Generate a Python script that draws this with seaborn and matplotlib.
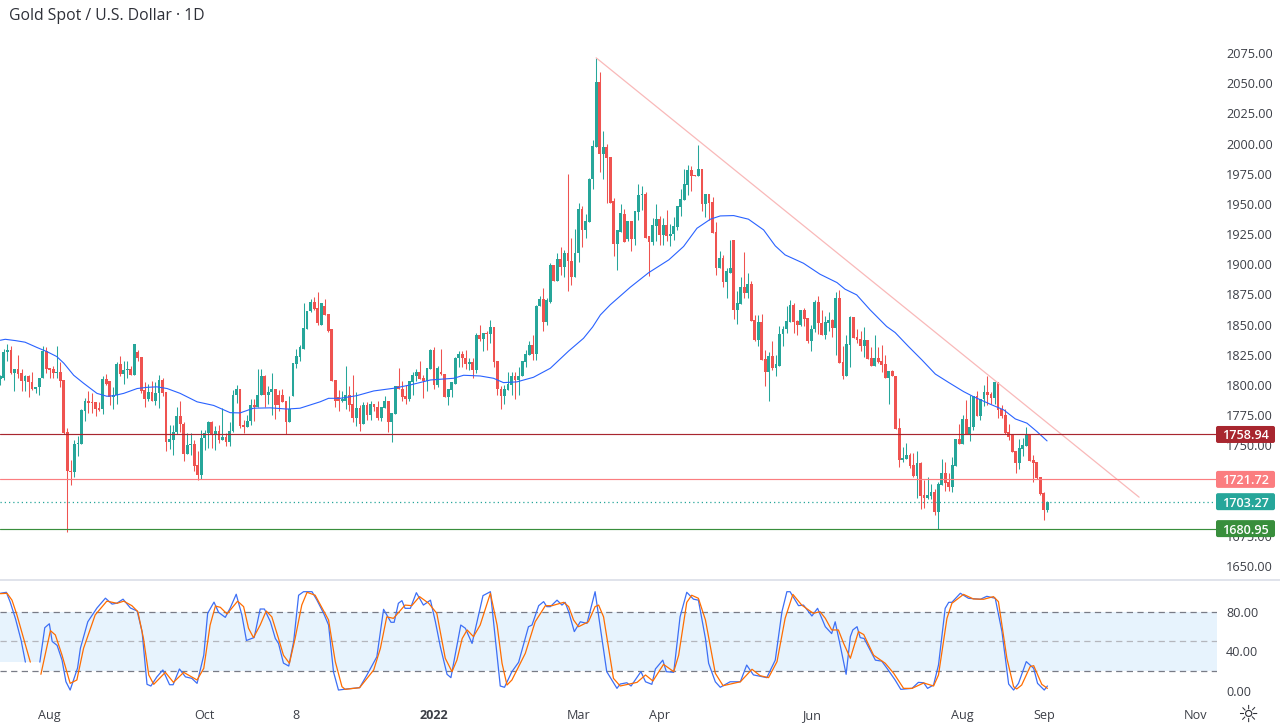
import numpy as np
import pandas as pd
import seaborn as sns
import matplotlib
matplotlib.use("Agg")
import matplotlib.pyplot as plt
from matplotlib.patches import FancyBboxPatch
from matplotlib.ticker import FormatStrFormatter
from matplotlib.transforms import IdentityTransform

# daily candles
opens = [
    1805, 1806, 1827, 1829, 1810, 1813, 1810, 1803, 1807, 1802,
    1797, 1798, 1806, 1828, 1814, 1813, 1810, 1811, 1804, 1761,
    1729, 1728, 1751, 1751, 1778, 1787, 1786, 1786, 1781, 1780,
    1805, 1803, 1790, 1792, 1817, 1809, 1812, 1813, 1808, 1827,
    1823, 1796, 1788, 1794, 1787, 1793, 1804, 1794, 1753, 1754,
    1761, 1774, 1768, 1743, 1750, 1751, 1734, 1725, 1756, 1760,
    1769, 1759, 1762, 1754, 1757, 1753, 1762, 1792, 1797, 1767,
    1765, 1770, 1783, 1782, 1792, 1807, 1792, 1794, 1797, 1792,
    1792, 1787, 1769, 1791, 1817, 1823, 1830, 1846, 1861, 1869,
    1864, 1850, 1865, 1859, 1846, 1804, 1790, 1787, 1787, 1792,
    1784, 1773, 1781, 1768, 1783, 1775, 1784, 1782, 1773, 1781,
    1787, 1769, 1776, 1799, 1797, 1791, 1788, 1802, 1807, 1811,
    1806, 1803, 1813, 1829, 1800, 1811, 1809, 1790, 1796, 1801,
    1822, 1826, 1822, 1817, 1819, 1812, 1841, 1838, 1843, 1842,
    1848, 1820, 1797, 1791, 1796, 1800, 1807, 1804, 1807, 1819,
    1825, 1833, 1826, 1865, 1871, 1852, 1869, 1899, 1886, 1904,
    1898, 1909, 1903, 1889, 1909, 1946, 1928, 1935, 1971, 1997,
    2051, 1991, 1997, 1989, 1952, 1917, 1927, 1942, 1921, 1936,
    1921, 1943, 1957, 1958, 1923, 1918.5, 1932, 1937.5, 1924, 1932.5,
    1923, 1925, 1931, 1947.5, 1953.5, 1966, 1978, 1974, 1973, 1979,
    1950, 1958, 1951.5, 1927, 1897, 1905, 1885, 1893, 1920, 1862,
    1867, 1881, 1876, 1884, 1854, 1837, 1852, 1821.5, 1811, 1824,
    1814, 1816, 1842, 1846, 1852, 1866, 1853, 1850, 1862, 1855.5,
    1836.5, 1846, 1869, 1851.5, 1841, 1851.5, 1854, 1847, 1872, 1819,
    1807.5, 1833, 1856, 1840, 1838, 1832, 1837, 1822.5, 1816, 1822.5,
    1820, 1817, 1806, 1811.5, 1807.5, 1764, 1738, 1739, 1742, 1733.8,
    1724.7, 1735.4, 1709, 1706.5, 1708, 1711.4, 1695, 1717.2, 1727, 1719.7,
    1715.5, 1733, 1755.3, 1751, 1772, 1759.4, 1765, 1791, 1774.3, 1788,
    1794, 1792.5, 1789.2, 1802.5, 1780, 1775, 1761, 1758.6, 1745.3, 1735.4,
    1746.8, 1749.5, 1758.6, 1738, 1736, 1723.8, 1710.6, 1696.5,
]
highs = [
    1808, 1830, 1834, 1832, 1813, 1825, 1813, 1808, 1808, 1811,
    1798, 1806, 1832, 1831, 1814, 1816, 1832, 1819, 1804, 1764,
    1738, 1754, 1758, 1780, 1789, 1795, 1793, 1786, 1786, 1807,
    1809, 1803, 1798, 1819, 1824, 1820, 1820, 1816, 1834, 1829,
    1823, 1802, 1801, 1803, 1802, 1808, 1806, 1794, 1767, 1767,
    1782, 1787, 1769, 1760, 1760, 1754, 1745, 1763, 1763, 1770,
    1770, 1766, 1767, 1781, 1760, 1769, 1796, 1800, 1797, 1771,
    1775, 1788, 1788, 1813, 1813, 1808, 1799, 1810, 1797, 1796,
    1797, 1787, 1791, 1818, 1830, 1833, 1868, 1861, 1871, 1873,
    1877, 1868, 1871, 1859, 1846, 1804, 1796, 1795, 1816, 1799,
    1808, 1794, 1783, 1786, 1786, 1787, 1784, 1787, 1782, 1791,
    1787, 1777, 1799, 1814, 1803, 1800, 1803, 1811, 1813, 1820,
    1808, 1814, 1830, 1831, 1816, 1830, 1809, 1797, 1802, 1823,
    1828, 1828, 1829, 1822, 1822, 1843, 1850, 1843, 1845, 1854,
    1848, 1820, 1799, 1800, 1811, 1811, 1811, 1815, 1820, 1829,
    1836, 1841, 1866, 1874, 1880, 1872, 1901, 1899, 1909, 1914,
    1912, 1975, 1922, 1929, 1950.5, 1948, 1942, 1971.5, 2003, 2071,
    2059, 2010, 1999.5, 1989, 1955, 1928, 1950, 1946, 1936, 1936,
    1944, 1966.5, 1965, 1960, 1923, 1938, 1950, 1940, 1938, 1945,
    1933, 1939, 1948, 1962, 1979, 1982, 1981, 1974, 1999, 1979,
    1958, 1958, 1956, 1935, 1911, 1908, 1897, 1920, 1920, 1878,
    1889.5, 1910, 1893, 1886, 1858, 1858, 1859, 1829, 1827, 1836,
    1825, 1849, 1849, 1865.5, 1870, 1868, 1854, 1862, 1864, 1855.5,
    1850, 1870.5, 1874, 1862, 1857, 1860, 1855, 1877, 1879, 1832,
    1841.5, 1857, 1856, 1846.5, 1845, 1848, 1837, 1831.5, 1841, 1831,
    1833, 1825, 1811.5, 1812, 1807.5, 1773, 1748.5, 1752, 1744, 1743.7,
    1745, 1736, 1721, 1724, 1718, 1714, 1719.7, 1738.7, 1736, 1727,
    1740.4, 1755.3, 1767.7, 1775, 1787.6, 1791.7, 1791, 1795, 1788.4, 1800,
    1807.5, 1794, 1802.5, 1802.5, 1783.4, 1780, 1767.7, 1758.6, 1745.3, 1755.3,
    1755.8, 1765.5, 1758.6, 1742, 1736, 1723.8, 1711.4, 1703.5,
]
lows = [
    1800, 1804, 1820, 1809, 1795, 1806, 1795, 1795, 1790, 1796,
    1793, 1792, 1806, 1810, 1806, 1806, 1806, 1798, 1759, 1678,
    1717, 1724, 1741, 1751, 1770, 1777, 1777, 1774, 1778, 1776,
    1800, 1783, 1780, 1784, 1807, 1801, 1806, 1808, 1808, 1820,
    1793, 1782, 1787, 1787, 1783, 1781, 1791, 1745, 1747, 1742,
    1759, 1761, 1737, 1743, 1742, 1729, 1721, 1722, 1746, 1748,
    1748, 1746, 1752, 1754, 1749, 1749, 1761, 1785, 1764, 1760,
    1765, 1767, 1770, 1782, 1792, 1782, 1784, 1775, 1772, 1778,
    1786, 1759, 1769, 1791, 1814, 1820, 1830, 1846, 1860, 1862,
    1850, 1850, 1858, 1844, 1803, 1782, 1778, 1786, 1780, 1778,
    1769, 1766, 1762, 1768, 1771, 1771, 1778, 1771, 1770, 1781,
    1761, 1753, 1776, 1797, 1787, 1784, 1787, 1792, 1803, 1805,
    1789, 1795, 1813, 1797, 1798, 1808, 1790, 1783, 1790, 1801,
    1815, 1815, 1813, 1812, 1806, 1810, 1836, 1828, 1829, 1835,
    1815, 1792, 1780, 1784, 1796, 1792, 1788, 1792, 1807, 1815,
    1825, 1821, 1821, 1865, 1845, 1850, 1868, 1886, 1886, 1891,
    1889, 1878, 1883, 1889, 1902, 1914, 1922, 1935, 1962, 1997,
    1976.5, 1971, 1951, 1951, 1907, 1895, 1927, 1918, 1919, 1911,
    1916, 1937, 1945, 1922, 1890, 1916, 1919, 1916, 1916, 1919,
    1915, 1920, 1928, 1940, 1953.5, 1957, 1961, 1973, 1973, 1944,
    1939, 1937, 1926, 1891, 1897, 1881, 1872, 1893, 1855, 1850.5,
    1867, 1872, 1872, 1853, 1836, 1832, 1821, 1799, 1787, 1812.5,
    1807.5, 1816, 1832, 1843, 1852, 1843, 1841, 1849, 1849, 1835,
    1828, 1844, 1842, 1841, 1838, 1845, 1840, 1825, 1818, 1805,
    1807.5, 1815, 1839, 1835, 1828, 1823, 1821.5, 1816, 1816, 1818,
    1811, 1806, 1784, 1807, 1763.5, 1732, 1736, 1739, 1731, 1724,
    1706.5, 1697, 1698, 1705.6, 1705.6, 1692, 1680.8, 1717, 1712, 1712,
    1711.4, 1733, 1751, 1751, 1759.4, 1753.6, 1762.7, 1774.3, 1771, 1782.6,
    1783.4, 1784, 1784, 1772.7, 1773, 1759.5, 1754.4, 1744.5, 1727, 1730.4,
    1740.7, 1749.5, 1737, 1719.7, 1722, 1709, 1688, 1695,
]
closes = [
    1807, 1827, 1829, 1810, 1813, 1809, 1803, 1807, 1802, 1797,
    1798, 1806, 1828, 1813, 1812, 1810, 1811, 1803, 1760, 1729,
    1728, 1751, 1752, 1779, 1787, 1785, 1785, 1780, 1779, 1805,
    1801, 1790, 1792, 1817, 1809, 1812, 1813, 1808, 1834, 1822,
    1795, 1788, 1794, 1787, 1793, 1804, 1793, 1753, 1755, 1761,
    1774, 1768, 1743, 1750, 1751, 1733, 1725, 1756, 1760, 1769,
    1759, 1762, 1754, 1757, 1753, 1762, 1792, 1797, 1766, 1765,
    1770, 1783, 1782, 1792, 1807, 1792, 1794, 1797, 1783, 1783,
    1786, 1769, 1780, 1818, 1824, 1831, 1847, 1861, 1869, 1863,
    1851, 1868, 1858, 1845, 1803, 1787, 1787, 1788, 1792, 1783,
    1773, 1781, 1768, 1783, 1775, 1784, 1782, 1773, 1782, 1787,
    1769, 1777, 1799, 1797, 1790, 1788, 1803, 1808, 1811, 1805,
    1803, 1814, 1829, 1800, 1814, 1809, 1790, 1797, 1802, 1822,
    1826, 1822, 1817, 1819, 1812, 1841, 1838, 1843, 1842, 1848,
    1819, 1797, 1791, 1797, 1801, 1807, 1804, 1807, 1820, 1826,
    1833, 1826, 1865.5, 1871, 1852, 1870, 1899, 1886, 1904.5, 1898,
    1909, 1903, 1889, 1909, 1946, 1928, 1936, 1971, 1998, 2051,
    1991, 1997, 1988, 1951, 1917, 1928, 1942.5, 1918, 1936, 1921,
    1944, 1957.5, 1958.5, 1922, 1918.5, 1932.5, 1937.5, 1924, 1932.5, 1923,
    1925, 1932, 1948, 1954, 1966.5, 1978, 1973, 1973, 1979, 1950,
    1958, 1951, 1926, 1897, 1905, 1885, 1894.5, 1897, 1862, 1868,
    1881, 1876, 1884, 1853, 1837, 1852, 1821, 1811, 1824, 1814,
    1817, 1842, 1846.5, 1853, 1866, 1852, 1850, 1862, 1855, 1836.5,
    1846.5, 1869, 1851, 1841, 1852, 1854, 1847, 1872, 1818, 1807.5,
    1834, 1856, 1839, 1837, 1832, 1837, 1821.5, 1816, 1822.5, 1819,
    1816.5, 1806, 1811.5, 1807, 1763.5, 1738, 1739.5, 1742, 1733, 1724.7,
    1735.4, 1708, 1706.5, 1709, 1711.4, 1695, 1718, 1727, 1719, 1715.5,
    1733.8, 1755.3, 1751, 1772, 1759.4, 1765, 1791, 1774.3, 1788.4, 1794,
    1791.7, 1789.2, 1802.5, 1779.3, 1774.3, 1760, 1756.7, 1744.5, 1735.4, 1747.8,
    1750.3, 1758.6, 1737, 1735.4, 1723, 1709.7, 1696.5, 1703.27,
]

# moving average, bar number and price
ma_bar = [0, 1.4, 4.3, 7, 10.4, 13.2, 16, 18, 20.8, 23.6, 27.4, 30.2, 32, 35, 38.8, 41.6,
          44.4, 47.3, 51, 55.8, 60.5, 65.2, 68, 71.8, 76.6, 81.3, 85, 90.7, 93.1, 96.4,
          101.1, 105.9, 111.5, 116.3, 122, 128.6, 131.4, 136.1, 139.9, 142.7, 146.5,
          151.2, 156, 161.2, 165.4, 168, 170.2, 173, 178.7, 183.9, 189.6, 193.8, 197.6,
          201.4, 204.2, 208, 212.2, 216.5, 219.8, 222.6, 227.8, 232.5, 237.3, 239.6,
          242.9, 246.7, 251.4, 253.8, 257.6, 261.4, 265.2, 269, 273.2, 276, 280.8, 284.6,
          287.9, 291.2, 294, 296.9]
ma_price = [1837, 1837.8, 1836.7, 1835.4, 1831, 1827.6, 1823.5, 1818, 1808, 1801.4, 1793,
            1790.6, 1791, 1793, 1797, 1798, 1798.4, 1797, 1793, 1786, 1783, 1777, 1776.8,
            1780.7, 1781, 1780, 1780.7, 1786, 1788.9, 1788.9, 1791.1, 1795, 1797.2, 1800,
            1804.1, 1805.5, 1808, 1807.4, 1805.5, 1801.9, 1802.5, 1806.3, 1813.8, 1828.1,
            1838.6, 1848, 1858, 1866.4, 1881, 1893, 1903.6, 1914.7, 1929.8, 1937.3, 1940,
            1940.3, 1937.3, 1928.4, 1915.2, 1907.7, 1900.8, 1891.7, 1884.8, 1879.3, 1874.6,
            1862.2, 1848.4, 1843.4, 1831.8, 1820.7, 1809, 1802, 1794.5, 1790.3, 1784,
            1779.3, 1771.8, 1768.3, 1761.4, 1753.6]

trend_bar = [169, 323]
trend_price = [2071, 1707]

level_values = [1758.94, 1721.72, 1680.95]
level_colors = ["#a8262f", "#fb7d80", "#388e3c"]
last_price = 1703.27

# 1700 and 1725 sit fully under the price tags in the reference
price_ticks = [1650, 1675, 1750, 1775, 1800, 1825, 1850, 1875, 1900, 1925, 1950, 1975,
               2000, 2025, 2050, 2075]

# stochastic RSI, the old bars are cut off in the reference so each line has two parts
k_bar_head = [0, 1.7, 2.8, 4.3, 5.9, 7.1]
k_val_head = [99, 100, 90, 73, 51, 29]
k_bar = [11.2, 12.6, 13.9, 14.7, 16.1, 17.5, 18.6, 19.8, 21.9, 22.7, 24.8, 27.4, 29.8, 31.7,
         33.1, 34.8, 36.9, 38.8, 40.2, 41.6, 42.7, 44.4, 46.1, 48, 49, 50.8, 52.5, 54.3,
         55.8, 57.7, 58.8, 60.6, 61.9, 63.8, 65.2, 66.9, 68.5, 69.8, 72, 73.7, 74.9, 76.6,
         78, 78.9, 80.3, 81.8, 83.2, 84.6, 86, 88.4, 89.8, 91.7, 93.1, 94.5, 95.9, 98.3,
         101.9, 104, 106.8, 108.7, 110.8, 111.7, 112.9, 113.9, 114.8, 116.3, 118, 120,
         122, 123.4, 124.8, 126.7, 127.8, 130.6, 131.9, 133.8, 136.9, 139, 141.8, 143,
         145.1, 147, 149.8, 150.8, 152.7, 154.1, 155, 156, 157.9, 159.3, 160.2, 161.2,
         162.8, 164.5, 166.4, 168.7, 170.2, 172, 174.9, 175.8, 177.7, 178.9, 181.7, 183,
         184.8, 185.8, 187.9, 188.9, 191, 192.8, 194.7, 196.6, 198, 200, 200.9, 202.8,
         204.2, 207, 209.9, 211.7, 213.6, 217.4, 219.8, 221.7, 223.1, 224, 226.4, 227.8,
         230.2, 231.8, 234, 235.8, 236.8, 238.2, 239.9, 241.1, 241.8, 243, 243.9, 245,
         248.2, 250, 251.5, 253.8, 255.4, 258.6, 260.4, 261.9, 263, 264.7, 266.1, 268,
         269, 269.9, 272.3, 274.6, 278, 279.8, 282.2, 284.1, 286, 287.4, 288.8, 291,
         293.1, 294.2, 296.1, 297]
k_val = [29, 64, 68, 50, 46, 31, 9.1, 0.6, 23, 43, 70, 84, 94, 88, 89, 93, 84, 81, 60, 6.4,
         4.7, 14, 21, 6, 6, 22, 14, 12.5, 7.4, 36, 78.6, 90, 79.6, 74.5, 84, 98, 77, 51, 54,
         83, 83, 70, 53, 48, 28, 25, 50, 97, 100.6, 100.6, 92, 78.6, 66.7, 19, 0.6, 1.7, 3,
         16, 34.5, 82.7, 69.5, 69.5, 88.8, 91.5, 83.7, 83.7, 99.6, 87,
         92, 70, 44.7, 16.6, 13.2, 66.7, 63.4, 48, 96.6, 100.6, 4.7, 3.4, 19.3, 28.8, 65,
         66.7, 86.4, 90.5, 85.4, 85.4, 92, 87, 89.8, 80.3, 60, 70, 68.4, 100.6, 63.4, 19.3,
         2.3, 6.7, 8, 4.7, 19.3, 9, 6.4, 22, 31, 19.3, 18.6, 75, 100, 93, 92, 53, 27.8, 9,
         3.4, 9, 9, 26, 16, 13.2, 31, 80.3, 100.6, 100.6, 86.4, 87, 75.9, 83.7, 65, 58, 70,
         46.4, 16.6, 54.9, 61.7, 65, 53.9, 53, 31, 30, 22.7, 10.8, 1.3, 2.3, 8.4, 8, 2.3,
         5.7, 26, 83.7, 89.8, 89.8, 99, 93.9, 92.9, 95.9, 93.9, 60, 6.7, 0.6, 7.4, 29.5,
         22.7, 7.4, 0.6, 4.7]
d_bar_head = [0, 1.9, 3.3, 4.7, 6.6, 8.5]
d_val_head = [98.6, 99, 92, 77, 53, 29]
d_bar = [11.5, 14.2, 15.6, 17.5, 19.8, 21.7, 23.6, 26.9, 30.2, 33.1, 35, 37.3, 39, 40.6, 42.1,
         43.5, 46.8, 49.1, 52, 55.8, 57.7, 59.5, 61, 62.4, 64.3, 67.3, 69, 70.4, 71.8, 73.7,
         75.4, 77, 78.9, 80.3, 82, 83.6, 85.5, 87, 89.3, 93.1, 95, 96.9, 97.8, 101.9, 105.9,
         107.8, 109.6, 111.5, 114.8, 116.7, 118.9, 121.5,
         123.8, 126.2, 128.1, 129.5, 131, 132.4, 134.2, 136.1, 139, 140.9, 142.3, 143.7,
         145.1, 148.9, 151.7, 154.6, 156.5, 159.8, 161.2, 162.6, 164, 166.8, 168.7, 169.7,
         171.1, 173.9, 175.8, 180.6, 183, 185.1, 188.1, 191, 192.4, 194.7, 196.1, 198, 200,
         202.8, 205, 209.9, 213.2, 215.5, 217.9, 220.3, 222.6, 224.8, 227.3, 230.6, 232.5,
         234, 235.8, 237.7, 239.2, 241.1, 243.4, 244.9, 247.7, 251, 253.4, 256.2, 258.6,
         261.9, 264.7, 266.1, 268.5, 269.9, 273.2, 276, 278.9, 281.7, 283.1, 285.5, 287.4,
         288.3, 289.7, 292.1, 293.1, 295.4, 297]
d_val = [16.6, 61, 56.6, 36, 7.4, 10.8, 43, 77, 91, 88.8, 91, 86.4, 80.3, 53, 15.9, 6.4, 18.6,
         8.4, 18.6, 10.8, 22.7, 66.7, 86, 84.7, 78, 91, 85.4, 63.4, 53.9, 66.7, 81, 75, 53, 36,
         27.8, 53, 87, 100, 97, 71.8, 29.5, 4, 1.3, 3, 21, 43, 75, 73.5, 87, 86.4, 95.6, 88.8,
         78.6, 32.9, 19.3, 31, 53, 61.7, 54.9, 66.7, 99, 66.7, 27.8, 5.7, 10.8, 37.9, 70, 86.4,
         86.4, 89.8, 85.4, 71.8, 65, 70, 85.4, 87, 75, 12.5, 4.7, 8.4, 15.9, 9.8, 26.7, 19.3, 36,
         89.8, 97, 93.9, 71.8, 17.6, 5, 9, 21.7, 15.2, 13.2, 29.5, 73.5, 97.9, 87, 78.6, 80.3,
         73.5, 61.7, 61.7, 48, 32.9, 60, 57, 36, 27.8, 17.6, 2.3, 2.3, 7.8, 4.7, 15.9, 73.5,
         88.8, 97.9, 93.2, 92.9, 95.6, 90.5, 32.9, 4, 1.7, 5.7, 24.4, 25.4, 6.4, 2.3]

# band stops short above 20 on the oldest bars, same as the reference
band_bar = [-1, 11.3, 11.3, 345.1]
band_low = [29, 29, 20, 20]

time_ticks = [14, 58, 84, 123, 164, 187, 230, 273, 296, 339]
time_labels = ["Aug", "Oct", "8", "2022", "Mar", "Apr", "Jun", "Aug", "Sep", "Nov"]

UP = "#26a69a"
DOWN = "#ef5350"
TEXT = "#3c3f47"

sns.set_theme(style="white")
plt.rcParams["font.family"] = ["Open Sans", "DejaVu Sans"]

candles = pd.DataFrame({"open": opens, "high": highs, "low": lows, "close": closes})
candles["bar"] = candles.index
candles["color"] = np.where(candles["close"] >= candles["open"], UP, DOWN)

W, H = 1280, 728
fig = plt.figure(figsize=(W / 100, H / 100), dpi=100, facecolor="white")
ax = fig.add_axes([0, 1 - 579 / H, 1217 / W, 579 / H])
osc = fig.add_axes([0, 1 - 704 / H, 1217 / W, 124 / H])

# price pane
ax.vlines(candles["bar"], candles["low"], candles["high"], colors=candles["color"], lw=0.75, zorder=2)
ax.bar(candles["bar"], candles["close"] - candles["open"], bottom=candles["open"], width=0.8,
       color=candles["color"], linewidth=0, zorder=3)
sns.lineplot(x=ma_bar, y=ma_price, color="#2962ff", lw=0.8, ax=ax, estimator=None, sort=False, zorder=4)
sns.lineplot(x=trend_bar, y=trend_price, color="#f9b9b9", lw=0.9, ax=ax, estimator=None, sort=False, zorder=4)
for value, color in zip(level_values, level_colors):
    ax.axhline(value, color=color, lw=0.85, zorder=5)
ax.axhline(last_price, color=UP, lw=0.9, ls=(0, (1, 2.4)), zorder=5)

ax.set_xlim(-0.1, 345.1)
ax.set_ylim(1639.2, 2118.9)
ax.set_yticks(price_ticks)
ax.yaxis.set_major_formatter(FormatStrFormatter("%.2f"))
ax.yaxis.tick_right()
ax.tick_params(axis="y", length=0, pad=6.5, labelsize=9.1, labelcolor=TEXT)
ax.set_xticks([])
ax.set_xlabel("")
ax.set_ylabel("")
sns.despine(ax=ax, left=True, right=True, top=True, bottom=True)

# oscillator pane
osc.fill_between(band_bar, band_low, 80, color="#e7f3fd", linewidth=0, zorder=1)
for level, shade, in zip([80, 50, 20], ["#787b86", "#b4b6bd", "#787b86"]):
    osc.axhline(level, color=shade, lw=0.9, ls=(0, (5, 3.5)), zorder=2)
for xs, ys, color in [(k_bar_head, k_val_head, "#3d6ff5"), (k_bar, k_val, "#3d6ff5"),
                      (d_bar_head, d_val_head, "#ff6d00"), (d_bar, d_val, "#ff6d00")]:
    sns.lineplot(x=xs, y=ys, color=color, lw=0.9, ax=osc, estimator=None, sort=False, zorder=3)

osc.set_xlim(-0.1, 345.1)
osc.set_ylim(-13.6, 112.5)
osc.set_yticks([0, 40, 80])
osc.yaxis.set_major_formatter(FormatStrFormatter("%.2f"))
osc.yaxis.tick_right()
osc.tick_params(axis="y", length=0, pad=6.5, labelsize=9.1, labelcolor=TEXT)
osc.set_xticks(time_ticks)
osc.set_xticklabels(time_labels)
osc.tick_params(axis="x", length=0, pad=3.5, labelsize=9.1, labelcolor=TEXT)
osc.get_xticklabels()[3].set_fontweight("bold")
osc.set_xlabel("")
osc.set_ylabel("")
sns.despine(ax=osc, left=True, right=True, top=True, bottom=True)

# pane separator
fig.add_artist(plt.Line2D([0, 1], [1 - 579.5 / H] * 2, color="#e0e3eb", lw=1.4))

fig.text(9 / W, 1 - 16 / H, "Gold Spot / U.S. Dollar · 1D", ha="left", va="center",
         fontsize=11.3, color="#2e3038")
fig.text(1248 / W, 1 - 715 / H, "☼", ha="center", va="center", fontsize=17,
         color="#2e3038", family="DejaVu Sans")

# price tags on the scale
fig.canvas.draw()
tags = list(zip(level_values, level_colors)) + [(last_price, UP)]
for value, color in tags:
    y = ax.transData.transform((0, value))[1]
    fig.add_artist(FancyBboxPatch((1216, y - 8.5), 59, 17, boxstyle="round,pad=0,rounding_size=2",
                                  transform=IdentityTransform(), facecolor=color, edgecolor="none", zorder=5))
    fig.text(1245.5 / W, y / H, f"{value:.2f}", ha="center", va="center_baseline", fontsize=9.1,
             color="white", fontweight="semibold", zorder=6)

fig.savefig("out.png", dpi=100, facecolor="white")
